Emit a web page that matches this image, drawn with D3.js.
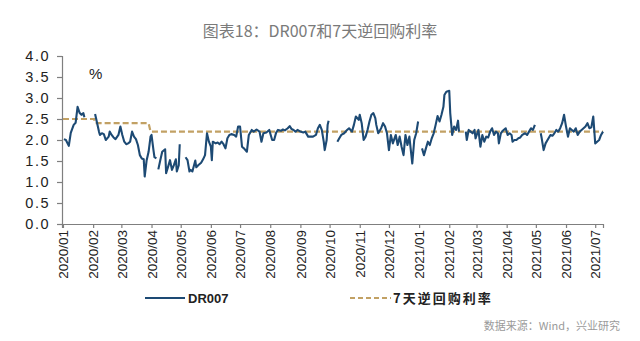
<!DOCTYPE html>
<html>
<head>
<meta charset="utf-8">
<script src="https://cdn.jsdelivr.net/npm/d3@7"></script>
<style>
  html, body { margin: 0; padding: 0; background: #fff; }
  svg { display: block; }
</style>
</head>
<body>
<svg id="chart" width="640" height="341"></svg>
<script>
// DR007 daily fixing (%), null marks holiday breaks in the series
const drDates = [
  "2020-01-02","2020-01-04","2020-01-07","2020-01-09","2020-01-12","2020-01-14","2020-01-16","2020-01-18","2020-01-20","2020-01-22","2020-01-23",
  "2020-01-28",
  "2020-02-03","2020-02-05","2020-02-07","2020-02-08","2020-02-10","2020-02-12","2020-02-14","2020-02-17","2020-02-18","2020-02-20","2020-02-22","2020-02-24","2020-02-27","2020-02-29",
  "2020-03-02","2020-03-04","2020-03-06","2020-03-08","2020-03-10","2020-03-12","2020-03-14","2020-03-16","2020-03-18","2020-03-20","2020-03-22","2020-03-24","2020-03-25","2020-03-27","2020-03-29","2020-03-31",
  "2020-04-01","2020-04-03","2020-04-04","2020-04-06",
  "2020-04-07",
  "2020-04-08","2020-04-10","2020-04-12","2020-04-15","2020-04-16","2020-04-18","2020-04-20","2020-04-22","2020-04-24","2020-04-26","2020-04-27","2020-04-29","2020-04-30",
  "2020-05-03",
  "2020-05-06","2020-05-08","2020-05-10","2020-05-11","2020-05-13","2020-05-16","2020-05-17","2020-05-19","2020-05-22","2020-05-24","2020-05-26","2020-05-28","2020-05-30",
  "2020-06-01","2020-06-02","2020-06-03","2020-06-06","2020-06-08","2020-06-10","2020-06-12","2020-06-14","2020-06-16","2020-06-18","2020-06-20","2020-06-22","2020-06-25","2020-06-27","2020-06-29",
  "2020-07-01","2020-07-03","2020-07-05","2020-07-08","2020-07-10","2020-07-13","2020-07-15","2020-07-18","2020-07-21","2020-07-23","2020-07-25","2020-07-28","2020-07-31",
  "2020-08-03","2020-08-05","2020-08-07","2020-08-09","2020-08-12","2020-08-14","2020-08-16","2020-08-19","2020-08-21","2020-08-23","2020-08-25","2020-08-27","2020-08-29",
  "2020-09-01","2020-09-04","2020-09-06","2020-09-09","2020-09-12","2020-09-14","2020-09-17","2020-09-19","2020-09-21","2020-09-23","2020-09-25","2020-09-26","2020-09-28","2020-09-29","2020-09-30",
  "2020-10-04",
  "2020-10-09","2020-10-11","2020-10-13","2020-10-16","2020-10-19","2020-10-21","2020-10-24","2020-10-26","2020-10-28","2020-10-31",
  "2020-11-01","2020-11-03","2020-11-05","2020-11-07","2020-11-09","2020-11-11","2020-11-13","2020-11-15","2020-11-17","2020-11-18","2020-11-20","2020-11-23","2020-11-25","2020-11-27","2020-11-29",
  "2020-12-01","2020-12-03","2020-12-05","2020-12-08","2020-12-10","2020-12-12","2020-12-14","2020-12-16","2020-12-18","2020-12-20","2020-12-22","2020-12-25","2020-12-27","2020-12-29","2020-12-31",
  "2021-01-02",
  "2021-01-04","2021-01-06","2021-01-08","2021-01-10","2021-01-12","2021-01-14","2021-01-16","2021-01-18","2021-01-20","2021-01-22","2021-01-24","2021-01-26","2021-01-27","2021-01-29",
  "2021-02-01","2021-02-02","2021-02-04","2021-02-06","2021-02-08","2021-02-10","2021-02-11",
  "2021-02-14",
  "2021-02-18","2021-02-19","2021-02-21","2021-02-23","2021-02-25","2021-02-27","2021-02-28",
  "2021-03-03","2021-03-05","2021-03-07","2021-03-09","2021-03-11","2021-03-13","2021-03-15","2021-03-17","2021-03-19","2021-03-21","2021-03-23","2021-03-24","2021-03-26","2021-03-28","2021-03-31",
  "2021-04-02","2021-04-04","2021-04-06","2021-04-07","2021-04-09","2021-04-11","2021-04-13","2021-04-15","2021-04-17","2021-04-20","2021-04-22","2021-04-24","2021-04-26","2021-04-28","2021-04-30",
  "2021-05-03",
  "2021-05-06","2021-05-07","2021-05-09","2021-05-11","2021-05-13","2021-05-16","2021-05-18","2021-05-20","2021-05-22","2021-05-24","2021-05-26","2021-05-28","2021-05-30",
  "2021-06-01","2021-06-03","2021-06-05","2021-06-07","2021-06-09","2021-06-11","2021-06-13","2021-06-15","2021-06-17","2021-06-19","2021-06-21","2021-06-23","2021-06-25","2021-06-27","2021-06-29",
  "2021-07-01","2021-07-03","2021-07-05","2021-07-07","2021-07-09"
];
const drValues = [
  2.02,2.00,1.86,2.17,2.36,2.41,2.79,2.65,2.60,2.64,2.54,
  null,
  2.62,2.41,2.20,2.12,2.16,2.14,2.00,2.08,2.20,2.12,2.06,2.02,2.12,2.32,
  2.12,1.96,1.90,1.92,1.96,2.20,2.08,2.02,1.88,1.64,1.56,1.54,1.13,1.52,1.72,2.08,
  2.12,1.76,1.59,1.56,
  null,
  1.30,1.52,1.72,1.78,1.21,1.36,1.52,1.29,1.40,1.54,1.25,1.40,1.90,
  null,
  1.59,1.52,1.25,1.29,1.25,1.51,1.35,1.40,1.46,1.54,1.64,2.16,1.96,
  1.84,1.52,1.96,1.92,1.94,1.90,1.96,1.90,1.80,2.04,2.12,2.14,2.12,2.08,2.32,
  2.32,1.84,1.80,1.72,2.12,2.24,2.20,2.25,2.20,1.96,2.16,2.18,2.24,
  2.00,2.00,2.17,2.24,2.22,2.25,2.23,2.28,2.33,2.26,2.24,2.20,2.24,
  2.20,2.18,2.20,2.08,2.08,2.08,2.12,2.28,2.36,2.24,1.96,1.76,2.00,2.36,2.46,
  null,
  1.96,2.04,2.12,2.16,2.24,2.28,2.20,2.36,2.56,2.48,
  2.60,2.40,2.00,2.08,2.24,2.44,2.60,2.64,2.52,2.36,2.16,2.28,2.40,2.32,2.16,
  1.76,2.12,1.92,2.12,1.88,2.08,1.84,1.64,2.12,1.88,2.08,1.44,2.00,2.16,2.44,
  null,
  1.80,1.64,1.80,1.96,1.88,2.04,2.16,2.36,2.57,2.44,2.60,2.79,3.07,3.15,
  3.17,2.64,2.12,2.32,2.24,2.46,2.20,
  null,
  2.20,2.00,2.24,2.20,2.16,2.24,2.04,
  2.24,1.84,2.12,1.96,2.08,2.06,2.20,2.28,2.12,2.20,2.16,1.92,2.16,2.22,2.28,
  2.12,2.16,2.12,1.96,2.00,2.00,2.04,2.06,2.12,2.16,2.12,2.20,2.28,2.24,2.36,
  null,
  2.16,2.04,1.76,1.92,2.00,2.12,2.10,2.16,2.24,2.20,2.28,2.40,2.60,
  2.32,2.08,2.28,2.24,2.20,2.28,2.12,2.20,2.24,2.28,2.32,2.40,2.28,2.30,2.56,
  1.92,1.96,2.00,2.12,2.20
];

// 7-day reverse repo policy rate (%)
const repoDates = ["2020-01-01","2020-02-02","2020-02-03","2020-03-29","2020-03-31","2021-07-09"];
const repoValues = [2.5, 2.5, 2.4, 2.4, 2.2, 2.2];

// Axis labels
const yTicks = [0, 0.5, 1.0, 1.5, 2.0, 2.5, 3.0, 3.5, 4.0];
const monthTicks = [
  "2020/01","2020/02","2020/03","2020/04","2020/05","2020/06","2020/07","2020/08","2020/09","2020/10",
  "2020/11","2020/12","2021/01","2021/02","2021/03","2021/04","2021/05","2021/06","2021/07"
];

const parseDay = d3.timeParse("%Y-%m-%d");
const parseMonth = d3.timeParse("%Y/%m");

const svg = d3.select("#chart");
const plotL = 62, plotR = 603, plotT = 56, plotB = 224;

const x = d3.scaleTime()
  .domain([parseDay("2019-12-31"), parseDay("2021-07-09")])
  .range([plotL, plotR]);
const y = d3.scaleLinear().domain([0, 4]).range([plotB, plotT]);

const axisColor = "#7f7f7f";
const font = "'Liberation Sans', Arial, sans-serif";
const repoColor = "#c2a164";
const drColor = "#1d4a74";

// Title
svg.append("text")
  .attr("x", 320).attr("y", 37)
  .attr("text-anchor", "middle")
  .attr("font-family", "'Noto Sans CJK SC', sans-serif")
  .attr("font-size", 16)
  .attr("fill", "#7a7a7a")
  .text("图表18：DR007和7天逆回购利率");

// Y axis
const yAxis = svg.append("g")
  .attr("transform", `translate(${plotL},0)`)
  .call(d3.axisLeft(y).tickValues(yTicks).tickFormat(d3.format(".1f")).tickSize(5).tickPadding(7));
yAxis.selectAll("text")
  .attr("font-family", font).attr("font-size", 14.5).attr("fill", "#222")
  .attr("letter-spacing", "1.5px");

// X axis
const xAxis = svg.append("g")
  .attr("transform", `translate(0,${plotB})`)
  .call(d3.axisBottom(x)
    .tickValues(monthTicks.map(parseMonth))
    .tickFormat(d3.timeFormat("%Y/%m"))
    .tickSize(4).tickPadding(0));
xAxis.selectAll("text")
  .attr("font-family", font).attr("font-size", 13.5).attr("fill", "#222")
  .attr("transform", "rotate(-90)")
  .attr("text-anchor", "end")
  .attr("dx", "-6px")
  .attr("dy", "0.35em")
  .attr("x", 0).attr("y", 0);

[yAxis, xAxis].forEach(g => {
  g.select(".domain").attr("stroke", axisColor).attr("stroke-width", 1.2);
  g.selectAll(".tick line").attr("stroke", axisColor).attr("stroke-width", 1.2);
});

// Unit label
svg.append("text")
  .attr("x", 89).attr("y", 79)
  .attr("font-family", font).attr("font-size", 15).attr("fill", "#222")
  .text("%");

// Policy rate (dashed)
const repoLine = d3.line()
  .x((d, i) => x(parseDay(repoDates[i])))
  .y(d => y(d));
svg.append("path")
  .datum(repoValues)
  .attr("d", repoLine)
  .attr("fill", "none")
  .attr("stroke", repoColor)
  .attr("stroke-width", 2.2)
  .attr("stroke-dasharray", "6,3");

// DR007
const drLine = d3.line()
  .defined(d => d != null)
  .x((d, i) => x(parseDay(drDates[i])))
  .y(d => y(d));
svg.append("path")
  .datum(drValues)
  .attr("d", drLine)
  .attr("fill", "none")
  .attr("stroke", drColor)
  .attr("stroke-width", 2.1)
  .attr("stroke-linejoin", "round");

// Legend
const lg = svg.append("g");
lg.append("line").attr("x1", 145).attr("x2", 185).attr("y1", 298).attr("y2", 298)
  .attr("stroke", drColor).attr("stroke-width", 2);
lg.append("text").attr("x", 188).attr("y", 303)
  .attr("font-family", font).attr("font-size", 13).attr("font-weight", "bold").attr("fill", "#222")
  .text("DR007");
lg.append("line").attr("x1", 350).attr("x2", 391).attr("y1", 298).attr("y2", 298)
  .attr("stroke", repoColor).attr("stroke-width", 2).attr("stroke-dasharray", "5,3");
lg.append("text").attr("x", 393).attr("y", 303)
  .attr("font-family", "'Noto Sans CJK SC', sans-serif").attr("font-size", 13).attr("font-weight", "bold")
  .attr("fill", "#222").attr("letter-spacing", "2px")
  .text("7天逆回购利率");

// Source note
svg.append("text")
  .attr("x", 620).attr("y", 330)
  .attr("text-anchor", "end")
  .attr("font-family", "'Noto Sans CJK SC', sans-serif")
  .attr("font-size", 11)
  .attr("fill", "#9a9a9a")
  .text("数据来源：Wind，兴业研究");
</script>
</body>
</html>
